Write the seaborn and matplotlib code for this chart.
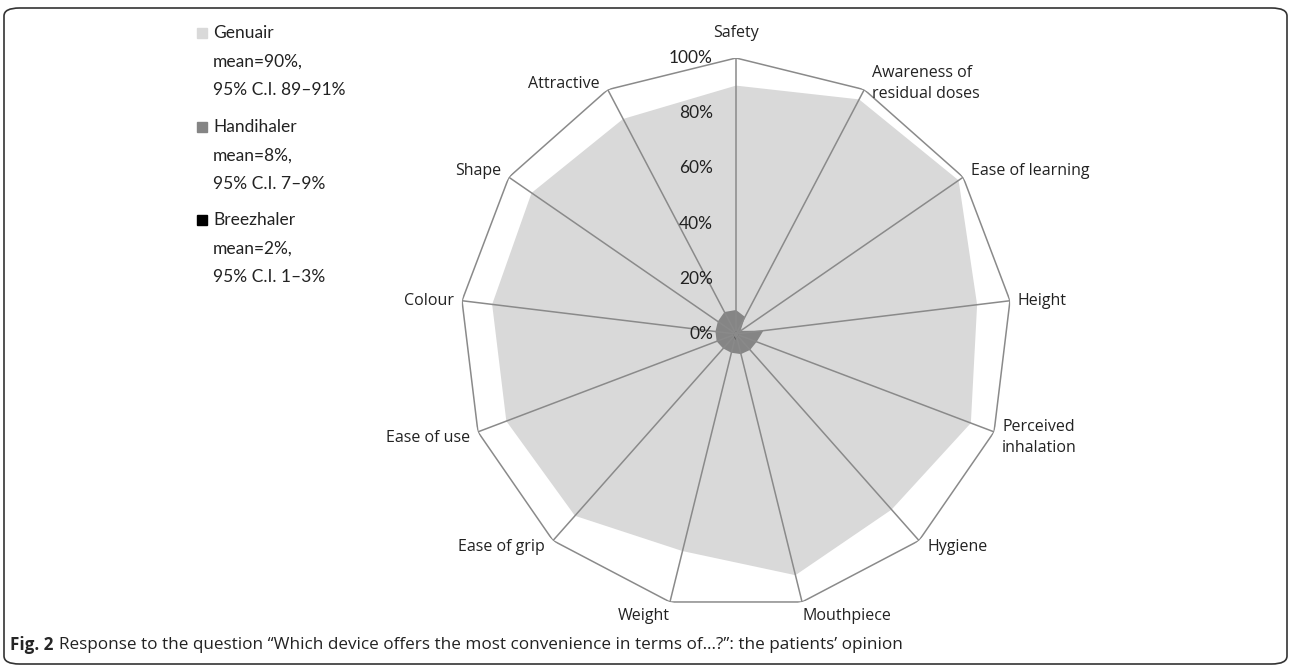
import numpy as np
import matplotlib
matplotlib.use("Agg")
import matplotlib.pyplot as plt
import seaborn as sns
from matplotlib.patches import FancyBboxPatch, Rectangle

sns.set_style("white")
plt.rcParams['font.family'] = ['Lato', 'DejaVu Sans']

# categories clockwise from the top
categories = ["Safety", "Awareness of\nresidual doses", "Ease of learning", "Height",
              "Perceived\ninhalation", "Hygiene", "Mouthpiece", "Weight",
              "Ease of grip", "Ease of use", "Colour", "Shape", "Attractive"]
genuair = [90, 96, 98, 88, 91, 85, 90, 81, 88, 89, 89, 90, 88]
handihaler = [8.7, 7, 2, 10, 8, 7.7, 7.5, 7, 7, 7.5, 7.5, 8, 9]
breezhaler = [1, 1, 0, 1, 1, 1, 1, 3, 1, 1, 1, 1, 1]
series_names = ["Genuair", "Handihaler", "Breezhaler"]
series_means = ["mean=90%,", "mean=8%,", "mean=2%,"]
series_ci = ["95% C.I. 89\u201391%", "95% C.I. 7\u20139%", "95% C.I. 1\u20133%"]
series_colors = ["#d9d9d9", "#858585", "#000000"]
r_ticks = [0, 20, 40, 60, 80, 100]

W, H = 1292, 668
fig = plt.figure(figsize=(W / 100, H / 100), dpi=100)

# chart centre (736, 334) px, radius 276 px
cx, cy, R = 736, 334, 276
ax = fig.add_axes([(cx - R) / W, (H - cy - R) / H, 2 * R / W, 2 * R / H], polar=True)
ax.set_theta_zero_location("N")
ax.set_theta_direction(-1)
ax.set_ylim(0, 100)
ax.set_frame_on(False)
ax.grid(False)
ax.set_xticks([])
ax.set_yticks([])

n = len(categories)
angles = np.linspace(0, 2 * np.pi, n, endpoint=False)
closed = np.append(angles, angles[0])

for vals, col in zip([genuair, handihaler, breezhaler], series_colors):
    v = np.append(vals, vals[0])
    ax.fill(closed, v, color=col, lw=0, zorder=2)

# spokes and outer polygon
for a in angles:
    ax.plot([a, a], [0, 100], color="#8a8a8a", lw=1.1, zorder=3)
ax.plot(closed, [100] * (n + 1), color="#8a8a8a", lw=1.1, zorder=3)

# radial tick labels along Safety axis
for t in r_ticks:
    ax.annotate(f"{t}%", xy=(0, t), xytext=(-23, 0), textcoords="offset pixels",
                ha="right", va="center", fontsize=12.5, color="#222222", zorder=4)

# category labels
for a, lab in zip(angles, categories):
    s, c = np.sin(a), np.cos(a)
    if abs(s) < 0.05:
        ha, off = "center", (0, 25)
    elif abs(c + 0.97) < 0.05:
        ha, off = ("left" if s > 0 else "right"), (0, -14)
    else:
        ha = "left" if s > 0 else "right"
        off = (8 * np.sign(s), 6 if c > 0.3 else (0 if c > -0.3 else -6))
    ax.annotate(lab, xy=(a, 100), xytext=off, textcoords="offset pixels",
                ha=ha, va="center", fontsize=11.5, color="#222222",
                family=["Open Sans", "DejaVu Sans"],
                linespacing=1.4, annotation_clip=False)

# legend
ys = [33, 127, 220]
for name, mean, ci, col, y in zip(series_names, series_means, series_ci, series_colors, ys):
    fig.patches.append(Rectangle((197 / W, 1 - (y + 5) / H), 10 / W, 10 / H,
                                 transform=fig.transFigure, color=col))
    for k, line in enumerate([name, mean, ci]):
        fig.text(213 / W, 1 - (y + 28.5 * k) / H, line, fontsize=12.5, va="center",
                 color="#222222")

# border box and caption
box = FancyBboxPatch((4 / W, 4 / H), 1283 / W, 656 / H, transform=fig.transFigure,
                     boxstyle="round,pad=0,rounding_size=0.012", fill=False,
                     ec="#333333", lw=1.2)
fig.patches.append(box)
fig.text(10 / W, 1 - 645 / H, "Fig. 2", fontsize=12.3, fontweight="bold", va="center",
         family=["Open Sans", "DejaVu Sans"])
fig.text(59 / W, 1 - 645 / H,
         "Response to the question \u201cWhich device offers the most convenience in terms of\u2026?\u201d: the patients\u2019 opinion",
         fontsize=12.3, va="center", family=["Open Sans", "DejaVu Sans"], color="#222222")

fig.savefig("out.png", dpi=100)
